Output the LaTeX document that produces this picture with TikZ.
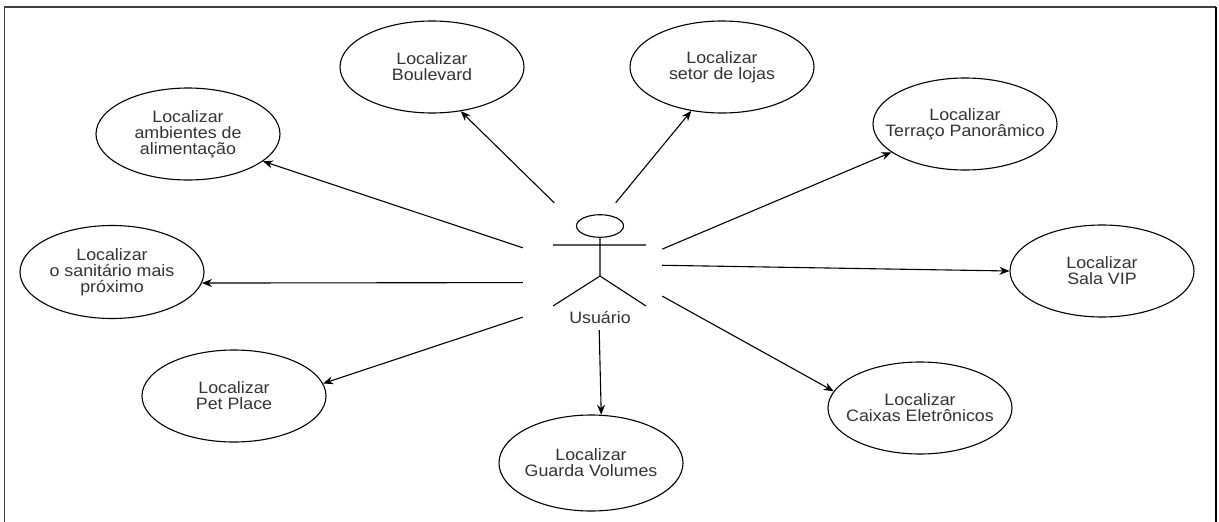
\documentclass[tikz,border=0pt]{standalone}
\usepackage{fontspec}
\setmainfont{Liberation Sans}[FakeStretch=1.08]
\usepackage{tikz}
\usetikzlibrary{positioning,shapes.geometric,arrows.meta}

\begin{document}
\begin{tikzpicture}[x=1pt,y=-1pt,
  caso/.style={ellipse,draw,line width=1.1,minimum width=184,minimum height=92,inner sep=0},
  texto/.style={align=center,font=\fontsize{16.5}{16}\selectfont,text=black!80},
  seta/.style={-{Stealth[length=10,width=8]},line width=1.1}
]
  \useasboundingbox (0,0) rectangle (1219,522);
  % moldura
  \draw[line width=1.3,black!75] (4.5,522) -- (4.5,7) -- (1216,7);
  \draw[line width=2.2] (1216,7) -- (1216,522);

  % casos de uso
  \node[caso,label={[texto]center:Localizar\\Boulevard}] (blv) at (432,67) {};
  \node[caso,label={[texto]center:Localizar\\setor de lojas}] (loj) at (722,67) {};
  \node[caso,label={[texto]center:Localizar\\ambientes de\\alimentação}] (ali) at (188,134) {};
  \node[caso,label={[texto]center:Localizar\\Terraço Panorâmico}] (ter) at (965,124) {};
  \node[caso,minimum height=93,label={[texto]center:Localizar\\o sanitário mais\\próximo}] (san) at (112,272) {};
  \node[caso,label={[texto]center:Localizar\\Sala VIP}] (vip) at (1102,271) {};
  \node[caso,label={[texto]center:Localizar\\Pet Place}] (pet) at (234,396) {};
  \node[caso,minimum height=96,label={[texto]center:Localizar\\Guarda Volumes}] (gua) at (591,463) {};
  \node[caso,label={[texto]center:Localizar\\Caixas Eletrônicos}] (cai) at (920,408) {};

  % ator
  \node[minimum width=139,minimum height=127,inner sep=0] (usr) at (592.5,266.5) {};
  \draw[line width=1.1] (600,226) ellipse [x radius=23.5,y radius=11.3];
  \draw[line width=1.1] (553,245) -- (646,245) (600,237.3) -- (600,276)
    (553,306) -- (600,276) -- (646,306);
  \node[texto] (usrtxt) at (600,318) {Usuário};

  % ligacoes
  \draw[seta] (usr.121.9) -- (blv.-57.7);
  \draw[seta] (usr.70.5) -- (loj.235.2);
  \draw[seta] (usr.165.1) -- (ali.-20.2);
  \draw[seta] (usr.193.4) -- (san.-7.5);
  \draw[seta] (usr.216) -- (pet.8.3);
  \draw[seta] (usr.14.9) -- (ter.201.3);
  \draw[seta] (usr.1.2) -- (vip.180.6);
  \draw[seta] (usr.337.7) -- (cai.169.3);
  \draw[seta] (usr.276.7) -- (gua.78);
\end{tikzpicture}
\end{document}
